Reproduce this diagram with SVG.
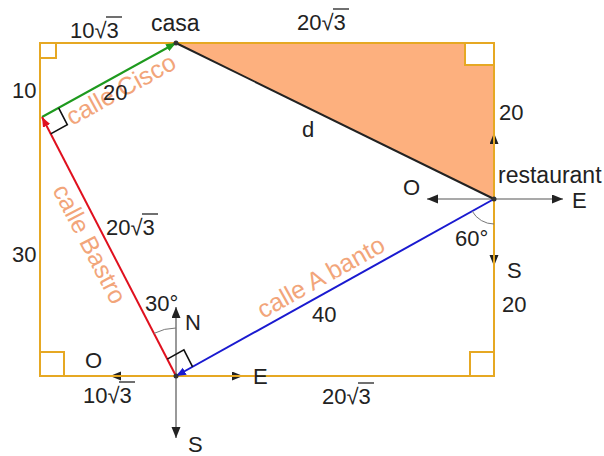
<svg xmlns="http://www.w3.org/2000/svg" width="604" height="456" viewBox="0 0 604 456">
<style>
text{font-family:"Liberation Sans",Arial,sans-serif;font-size:22px;fill:#222}
.lbl{font-size:25px;fill:#F2A57A}
.rect{fill:none;stroke:#E6A823;stroke-width:2}
.sq{fill:#fff;stroke:#E6A823;stroke-width:2}
.cmp{stroke:#555;stroke-width:1.2;fill:none}
.arc{stroke:#777;stroke-width:1;fill:none}
.ra{fill:none;stroke:#111;stroke-width:1.6}
.bar{stroke:#222;stroke-width:1.3}
</style>
<defs>
<marker id="ak" markerUnits="userSpaceOnUse" markerWidth="12" markerHeight="10" refX="11" refY="4.5" orient="auto"><path d="M0,0 L11,4.5 L0,9 z" fill="#222"/></marker>
<marker id="ag" markerUnits="userSpaceOnUse" markerWidth="11" markerHeight="9" refX="10" refY="4" orient="auto"><path d="M0,0 L10,4 L0,8 z" fill="#1E9A1E"/></marker>
<marker id="ar" markerUnits="userSpaceOnUse" markerWidth="11" markerHeight="9" refX="10" refY="4" orient="auto"><path d="M0,0 L10,4 L0,8 z" fill="#E0101E"/></marker>
<marker id="ab" markerUnits="userSpaceOnUse" markerWidth="11" markerHeight="9" refX="10" refY="4" orient="auto"><path d="M0,0 L10,4 L0,8 z" fill="#1A1AD0"/></marker>
</defs>

<g id="region">
<polygon points="176,43 494,43 494,199" fill="#FDB07E"/>
</g>

<g id="compasses">
<line class="cmp" x1="176" y1="376" x2="176" y2="307" marker-end="url(#ak)"/>
<line class="cmp" x1="176" y1="376" x2="176" y2="438" marker-end="url(#ak)"/>
<line class="cmp" x1="176" y1="376" x2="110" y2="376" marker-end="url(#ak)"/>
<line class="cmp" x1="176" y1="376" x2="243" y2="376" marker-end="url(#ak)"/>
<line class="cmp" x1="494" y1="199" x2="494" y2="133" marker-end="url(#ak)"/>
<line class="cmp" x1="494" y1="199" x2="494" y2="266" marker-end="url(#ak)"/>
<line class="cmp" x1="494" y1="199" x2="427" y2="199" marker-end="url(#ak)"/>
<line class="cmp" x1="494" y1="199" x2="563" y2="199" marker-end="url(#ak)"/>
</g>

<g id="frame">
<rect class="rect" x="40" y="43" width="454" height="333"/>
<rect class="sq" x="40" y="43" width="16" height="15"/>
<rect class="sq" x="465" y="43" width="29" height="22"/>
<rect class="sq" x="470" y="352" width="24" height="24"/>
<rect class="sq" x="40" y="352" width="24" height="24"/>
</g>

<g id="connectors">
<line x1="176" y1="43" x2="494" y2="199" stroke="#222" stroke-width="2"/>
<line x1="42" y1="117" x2="176" y2="43" stroke="#1E9A1E" stroke-width="2" marker-end="url(#ag)"/>
<line x1="176" y1="376" x2="42" y2="117" stroke="#E0101E" stroke-width="2" marker-end="url(#ar)"/>
<line x1="494" y1="199" x2="176" y2="376" stroke="#1A1AD0" stroke-width="2" marker-end="url(#ab)"/>
<path class="ra" d="M58.6,107.8 L67.3,124.7 L50.7,133.9"/>
<path class="ra" d="M167.3,359.1 L183.9,349.9 L192.6,366.8"/>
<path class="arc" d="M176,328 A48,48 0 0 0 154,333.4"/>
<path class="arc" d="M472.2,211.2 A25,25 0 0 0 494,224"/>
</g>

<g id="points">
<circle cx="176" cy="43" r="2.5" fill="#333"/>
<circle cx="494" cy="199" r="2.5" fill="#333"/>
<circle cx="176" cy="376" r="2.5" fill="#333"/>
</g>

<g id="street-labels">
<text class="lbl" transform="translate(72,126) rotate(-28.9)">calle Cisco</text>
<text class="lbl" transform="translate(52,190) rotate(62.6)">calle Bastro</text>
<text class="lbl" transform="translate(263,319) rotate(-29.1)">calle A banto</text>
</g>

<g id="casa"><text x="151" y="31" style="font-size:23px">casa</text></g>
<g id="restaurant"><text x="498" y="183" style="font-size:23px">restaurant</text></g>

<g id="measures">
<text x="70" y="38">10√3</text><line class="bar" x1="106" y1="17" x2="122" y2="17"/>
<text x="297" y="30">20√3</text><line class="bar" x1="333" y1="9" x2="349" y2="9"/>
<text x="12" y="98">10</text>
<text x="103" y="100">20</text>
<text x="302" y="137">d</text>
<text x="499" y="120">20</text>
<text x="12" y="262">30</text>
<text x="106" y="235">20√3</text><line class="bar" x1="142" y1="214" x2="158" y2="214"/>
<text x="312" y="322">40</text>
<text x="502" y="312">20</text>
<text x="83" y="403">10√3</text><line class="bar" x1="119" y1="382" x2="135" y2="382"/>
<text x="322" y="404">20√3</text><line class="bar" x1="358" y1="383" x2="374" y2="383"/>
<text x="455" y="246">60°</text>
<text x="145" y="311">30°</text>
</g>

<g id="directions">
<text x="403" y="195">O</text>
<text x="572" y="208">E</text>
<text x="507" y="278">S</text>
<text x="185" y="330">N</text>
<text x="85" y="368">O</text>
<text x="253" y="384">E</text>
<text x="188" y="452">S</text>
</g>
</svg>
